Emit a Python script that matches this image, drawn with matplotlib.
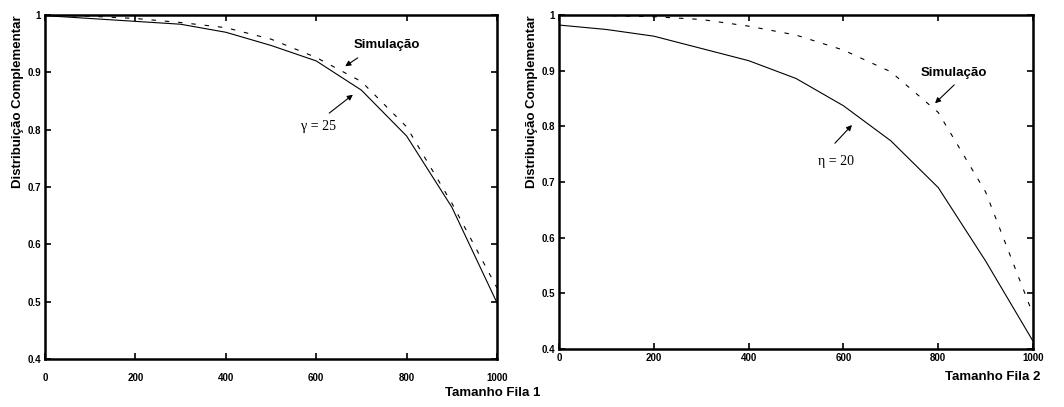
import matplotlib
matplotlib.use("Agg")
import matplotlib.pyplot as plt

# Data
fila = [0, 100, 200, 300, 400, 500, 600, 700, 800, 900, 1000]
fila1_analitico = [0.999, 0.994, 0.989, 0.984, 0.970, 0.947, 0.920, 0.869, 0.789, 0.665, 0.498]
fila1_simulacao = [1.000, 0.998, 0.994, 0.987, 0.978, 0.958, 0.926, 0.884, 0.805, 0.672, 0.524]
fila2_analitico = [0.982, 0.974, 0.962, 0.940, 0.918, 0.886, 0.837, 0.774, 0.690, 0.558, 0.414]
fila2_simulacao = [1.000, 0.999, 0.997, 0.992, 0.980, 0.964, 0.937, 0.898, 0.825, 0.682, 0.462]
yticks = [0.4, 0.5, 0.6, 0.7, 0.8, 0.9, 1.0]
ytick_labels = ["0.4", "0.5", "0.6", "0.7", "0.8", "0.9", "1"]
xticks = [0, 200, 400, 600, 800, 1000]
ylabel = "Distribuição Complementar"

SANS = ["Liberation Sans", "DejaVu Sans"]
SERIF = ["Liberation Serif", "DejaVu Serif"]

fig = plt.figure(figsize=(10.64, 4.07), dpi=100)
ax1 = fig.add_axes([0.0423, 0.118, 0.4248, 0.845])
ax2 = fig.add_axes([0.5254, 0.1425, 0.4455, 0.8206])

def style(ax, xpad):
    ax.set_xlim(0, 1000)
    ax.set_ylim(0.4, 1.0)
    ax.set_xticks(xticks)
    ax.set_xticklabels([str(t) for t in xticks])
    ax.set_yticks(yticks)
    ax.set_yticklabels(ytick_labels)
    ax.tick_params(direction="in", top=True, right=True, length=4, width=1.2,
                   labelsize=7)
    ax.tick_params(axis="x", pad=xpad)
    ax.tick_params(axis="y", pad=3)
    for lab in ax.get_xticklabels() + ax.get_yticklabels():
        lab.set_fontweight("bold")
        lab.set_family(SANS)
    for s in ax.spines.values():
        s.set_linewidth(1.8)
    ax.set_ylabel(ylabel, loc="top", fontsize=9.5, fontweight="bold", family=SANS,
                  labelpad=2)

dash = (0, (4, 8))

ax1.plot(fila, fila1_analitico, color="black", lw=0.8)
ax1.plot(fila, fila1_simulacao, color="black", lw=0.8, linestyle=dash)
style(ax1, 10)
ax1.set_xlabel("Tamanho Fila 1", fontsize=9.5, fontweight="bold", family=SANS, ha="right")
ax1.xaxis.set_label_coords(1.097, -0.099)
ax1.xaxis.label.set_va("center")

ax1.annotate("", xy=(659, 0.908), xytext=(697, 0.928),
             arrowprops=dict(arrowstyle="-|>", color="black", lw=0.8, mutation_scale=8))
ax1.text(757, 0.948, "Simulação", ha="center", va="center", fontsize=9.5,
         fontweight="bold", family=SANS)
ax1.annotate("", xy=(686, 0.864), xytext=(624, 0.826),
             arrowprops=dict(arrowstyle="-|>", color="black", lw=0.8, mutation_scale=8))
ax1.text(604, 0.805, "γ = 25", ha="center", va="center", fontsize=10, family=SERIF)

ax2.plot(fila, fila2_analitico, color="black", lw=0.8)
ax2.plot(fila, fila2_simulacao, color="black", lw=0.8, linestyle=dash)
style(ax2, 3)
ax2.set_xlabel("Tamanho Fila 2", fontsize=9.5, fontweight="bold", family=SANS, ha="right")
ax2.xaxis.set_label_coords(1.015, -0.084)
ax2.xaxis.label.set_va("center")

ax2.annotate("", xy=(789, 0.838), xytext=(838, 0.878),
             arrowprops=dict(arrowstyle="-|>", color="black", lw=0.8, mutation_scale=8))
ax2.text(833, 0.896, "Simulação", ha="center", va="center", fontsize=9.5,
         fontweight="bold", family=SANS)
ax2.annotate("", xy=(622, 0.806), xytext=(578, 0.766),
             arrowprops=dict(arrowstyle="-|>", color="black", lw=0.8, mutation_scale=8))
ax2.text(584, 0.736, "η = 20", ha="center", va="center", fontsize=10, family=SERIF)

fig.savefig("out.png", dpi=100)
